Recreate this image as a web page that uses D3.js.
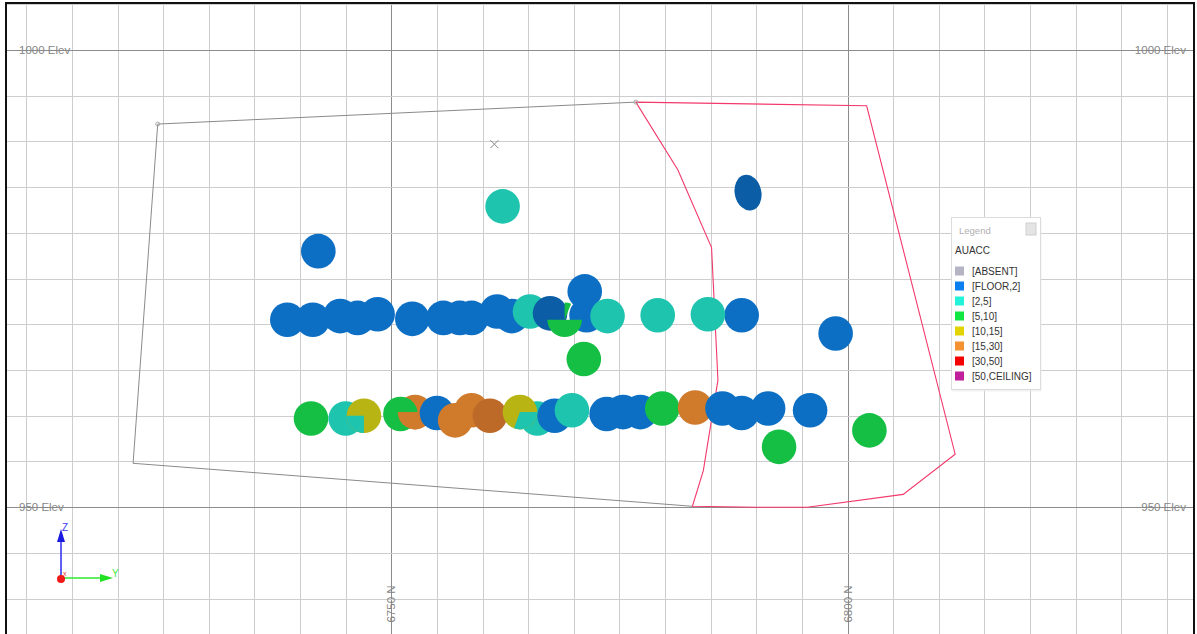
<!DOCTYPE html>
<html><head><meta charset="utf-8">
<script src="https://cdn.jsdelivr.net/npm/d3@7"></script>
<style>
html,body{margin:0;padding:0;background:#fff;}
svg{display:block;font-family:"Liberation Sans",Arial,sans-serif;}
</style></head>
<body><svg id="c" width="1197" height="634"></svg>
<script>
// ---------- data ----------
const gridNorthings = d3.range(6710, 6840, 5);
const gridElevations = d3.range(935, 1010, 5);
const northLabels = [6750, 6800];
const elevLabels = [1000, 950];

const legendTitle = "AUACC";
const gradeClasses = ["[ABSENT]", "[FLOOR,2]", "[2,5]", "[5,10]", "[10,15]", "[15,30]", "[30,50]", "[50,CEILING]"];

// samples: [northing, elevation, grade class, dark shade]
const upperRow = [
  [6738.6, 970.5, "[FLOOR,2]"], [6741.4, 970.5, "[FLOOR,2]"], [6744.4, 970.9, "[FLOOR,2]"],
  [6746.3, 970.7, "[FLOOR,2]"], [6748.5, 971.1, "[FLOOR,2]"], [6752.3, 970.6, "[FLOOR,2]"],
  [6755.7, 970.7, "[FLOOR,2]"], [6757.5, 970.7, "[FLOOR,2]"], [6758.8, 970.7, "[FLOOR,2]"],
  [6761.6, 971.4, "[FLOOR,2]"], [6763.2, 970.9, "[FLOOR,2]"], [6765.2, 971.4, "[2,5]"],
  [6767.4, 971.2, "[FLOOR,2]", 1], [6771.4, 971.0, "[FLOOR,2]"], [6771.2, 973.6, "[FLOOR,2]"],
  [6773.7, 970.9, "[2,5]"], [6779.2, 971.0, "[2,5]"], [6788.4, 971.0, "[FLOOR,2]"],
  [6784.7, 971.1, "[2,5]"], [6771.1, 966.2, "[5,10]"]
];
// partial intervals: [northing, elevation, grade, from deg, to deg]
const upperWedges = [
  [6769.0, 970.5, "[5,10]", 90, 270], [6769.0, 970.5, "[5,10]", 0, 22]
];
const isolated = [
  [6742.0, 978.0, "[FLOOR,2]"], [6762.2, 982.9, "[2,5]"], [6798.7, 969.0, "[FLOOR,2]"]
];
const tiltedSample = [[6789.1, 984.4, "[FLOOR,2]", 1]];
const lowerRow = [
  [6741.2, 959.7, "[5,10]"], [6745.0, 959.7, "[2,5]"], [6747.0, 960.0, "[10,15]"],
  [6752.6, 960.4, "[15,30]"], [6751.0, 960.2, "[5,10]"]
];
const lowerWedgesA = [
  [6747.0, 960.0, "[2,5]", 180, 270], [6752.6, 960.4, "[15,30]", 90, 270]
];
const lowerRowB = [
  [6755.0, 960.3, "[FLOOR,2]"], [6757.0, 959.5, "[15,30]"], [6758.8, 960.6, "[15,30]"],
  [6760.8, 960.0, "[15,30]", 1], [6766.0, 959.7, "[2,5]"], [6764.1, 960.4, "[10,15]"]
];
const lowerWedgesB = [[6764.1, 960.4, "[2,5]", 90, 200]];
const lowerRowC = [
  [6767.9, 960.0, "[FLOOR,2]"], [6769.8, 960.6, "[2,5]"], [6773.6, 960.2, "[FLOOR,2]"],
  [6775.4, 960.4, "[FLOOR,2]"], [6777.3, 960.4, "[FLOOR,2]"], [6779.7, 960.8, "[5,10]"],
  [6783.3, 960.9, "[15,30]"], [6786.3, 960.8, "[FLOOR,2]"], [6788.4, 960.3, "[FLOOR,2]"],
  [6791.3, 960.8, "[FLOOR,2]"], [6795.9, 960.6, "[FLOOR,2]"], [6792.5, 956.6, "[5,10]"],
  [6802.4, 958.4, "[5,10]"]
];

// outlines: [northing, elevation]
const sectionOutline = [[6783.0, 950.1], [6721.7, 954.8], [6724.4, 991.9], [6776.8, 994.3]];
const stopeOutline = [
  [6776.8, 994.3], [6781.4, 986.9], [6785.1, 978.4], [6785.8, 963.9], [6784.2, 954.0],
  [6783.0, 950.1], [6790.1, 950.0], [6795.6, 950.0], [6806.1, 951.4], [6811.8, 955.8],
  [6802.1, 993.9], [6776.8, 994.3]
];
const outlineVertices = [[6724.4, 991.9], [6776.8, 994.3]];
const crossMark = [6761.3, 989.7];

// ---------- styles ----------
const legendColor = {
  "[ABSENT]": "#b4b4c4", "[FLOOR,2]": "#0a80f0", "[2,5]": "#22f2d8", "[5,10]": "#12e640",
  "[10,15]": "#e2d400", "[15,30]": "#f49232", "[30,50]": "#f40000", "[50,CEILING]": "#c0209c"
};
const shadeColor = {
  "[FLOOR,2]": "#0d6fc4", "[2,5]": "#1ec4ae", "[5,10]": "#14bf44",
  "[10,15]": "#b7b414", "[15,30]": "#d07b2c"
};
const darkShade = {"[FLOOR,2]": "#0b5ea6", "[15,30]": "#bd6a28"};
const R = 17.3;

const W = 1197, H = 634;
const F = {l: 6, t: 3, r: 1194, b: 640};
const x = d3.scaleLinear().domain([6750, 6800]).range([391.3, 847.5]);
const y = d3.scaleLinear().domain([950, 1000]).range([507.2, 50]);

const svg = d3.select("#c");
svg.append("rect").attr("width", W).attr("height", H).attr("fill", "#fff");
svg.append("clipPath").attr("id", "fr").append("rect")
  .attr("x", F.l).attr("y", F.t).attr("width", F.r - F.l).attr("height", F.b - F.t);
const g = svg.append("g").attr("clip-path", "url(#fr)");

// grid via axes
const gx = g.append("g").attr("transform", `translate(0,${F.b})`)
  .call(d3.axisBottom(x).tickValues(gridNorthings).tickSize(-(F.b - F.t)).tickFormat(""));
const gy = g.append("g").attr("transform", `translate(${F.l},0)`)
  .call(d3.axisLeft(y).tickValues(gridElevations).tickSize(-(F.r - F.l)).tickFormat(""));
[gx, gy].forEach(a => {
  a.select(".domain").remove();
  a.selectAll(".tick line")
    .attr("stroke", d => d % 50 === 0 ? "#8c8c8c" : "#cdcdcd")
    .attr("stroke-width", 1)
    .attr("shape-rendering", "crispEdges");
});

// labels
const lab = g.append("g").attr("fill", "#858585").attr("font-size", 11.5);
elevLabels.forEach(e => {
  lab.append("text").attr("x", 19).attr("y", y(e)).attr("dy", "0.35em").text(`${e} Elev`);
  lab.append("text").attr("x", 1186).attr("y", y(e)).attr("dy", "0.35em")
    .attr("text-anchor", "end").text(`${e} Elev`);
});
northLabels.forEach(n => {
  lab.append("text").attr("transform", `translate(${x(n)},604) rotate(-90)`)
    .attr("text-anchor", "middle").attr("dy", "0.35em").text(`${n} N`);
});

// outlines
const line = d3.line().x(d => x(d[0])).y(d => y(d[1]));
g.append("path").attr("d", line(sectionOutline)).attr("fill", "none")
  .attr("stroke", "#8a8a8a").attr("stroke-width", 1);
g.append("path").attr("d", line(stopeOutline)).attr("fill", "none")
  .attr("stroke", "#f2396a").attr("stroke-width", 1.1);
g.selectAll(".vtx").data(outlineVertices).join("circle")
  .attr("cx", d => x(d[0])).attr("cy", d => y(d[1])).attr("r", 2)
  .attr("fill", "none").attr("stroke", "#aaa");
const cm = g.append("g").attr("stroke", "#8a8a8a").attr("stroke-width", 1);
[[-4, -4, 4, 4], [-4, 4, 4, -4]].forEach(s => cm.append("line")
  .attr("x1", x(crossMark[0]) + s[0]).attr("y1", y(crossMark[1]) + s[1])
  .attr("x2", x(crossMark[0]) + s[2]).attr("y2", y(crossMark[1]) + s[3]));

// samples
const fillOf = d => d[3] ? darkShade[d[2]] : shadeColor[d[2]];
const arc = d3.arc().innerRadius(0).outerRadius(R);
function discs(arr) {
  g.append("g").selectAll("circle").data(arr).join("circle")
    .attr("cx", d => x(d[0])).attr("cy", d => y(d[1])).attr("r", R)
    .attr("fill", fillOf);
}
function wedges(arr) {
  g.append("g").selectAll("path").data(arr).join("path")
    .attr("transform", d => `translate(${x(d[0])},${y(d[1])})`)
    .attr("d", d => arc({startAngle: d[3] * Math.PI / 180, endAngle: d[4] * Math.PI / 180}))
    .attr("fill", d => shadeColor[d[2]]);
}
discs(upperRow);
wedges(upperWedges);
discs(isolated);
g.append("g").selectAll("ellipse").data(tiltedSample).join("ellipse")
  .attr("transform", d => `translate(${x(d[0])},${y(d[1])}) rotate(-12)`)
  .attr("rx", 13.3).attr("ry", 18).attr("fill", fillOf);
discs(lowerRow);
wedges(lowerWedgesA);
discs(lowerRowB);
wedges(lowerWedgesB);
discs(lowerRowC);

// axis triad
const tri = g.append("g");
tri.append("line").attr("x1", 61).attr("y1", 578).attr("x2", 61).attr("y2", 540)
  .attr("stroke", "#2a2af0").attr("stroke-width", 1.5);
tri.append("path").attr("d", "M61,529 L57,542 L65,542 Z").attr("fill", "#1a1ae0");
tri.append("text").attr("x", 62).attr("y", 531).attr("fill", "#3a3af0")
  .attr("font-size", 10).text("Z");
tri.append("line").attr("x1", 61).attr("y1", 578).attr("x2", 102).attr("y2", 578)
  .attr("stroke", "#2ee82e").attr("stroke-width", 1.5);
tri.append("path").attr("d", "M113,578 L100,574 L100,582 Z").attr("fill", "#22e022");
tri.append("text").attr("x", 112).attr("y", 577).attr("fill", "#3ae83a")
  .attr("font-size", 10).text("Y");
tri.append("circle").attr("cx", 61).attr("cy", 579).attr("r", 4).attr("fill", "#f01818");
tri.append("text").attr("x", 63).attr("y", 576).attr("fill", "#e83030")
  .attr("font-size", 7).text("x");

// frame
svg.append("path").attr("d", `M${F.l},${H + 5} L${F.l},${F.t} L${F.r},${F.t} L${F.r},${H + 5}`)
  .attr("fill", "none").attr("stroke", "#111").attr("stroke-width", 2);

// legend
const lg = svg.append("g").attr("transform", "translate(951,217)");
lg.append("rect").attr("x", 1.5).attr("y", 1.5).attr("width", 89).attr("height", 173)
  .attr("fill", "#e8e8e8").attr("opacity", 0.6);
lg.append("rect").attr("x", 0.5).attr("y", 0.5).attr("width", 89).attr("height", 172)
  .attr("fill", "#fff").attr("stroke", "#dcdcdc");
lg.append("text").attr("x", 8).attr("y", 17).attr("fill", "#b0b0b0")
  .attr("font-size", 9.5).text("Legend");
lg.append("rect").attr("x", 75).attr("y", 6).attr("width", 10).attr("height", 12)
  .attr("fill", "#e4e4e4").attr("stroke", "#cfcfcf");
lg.append("text").attr("x", 4).attr("y", 37).attr("fill", "#333")
  .attr("font-size", 10).text(legendTitle);
const items = lg.selectAll(".it").data(gradeClasses).join("g")
  .attr("transform", (d, i) => `translate(0,${54 + i * 15})`);
items.append("rect").attr("x", 4).attr("y", -4.5).attr("width", 9).attr("height", 9)
  .attr("fill", d => legendColor[d]);
items.append("text").attr("x", 21).attr("dy", "0.35em").attr("fill", "#333")
  .attr("font-size", 10).text(d => d);
</script></body></html>
